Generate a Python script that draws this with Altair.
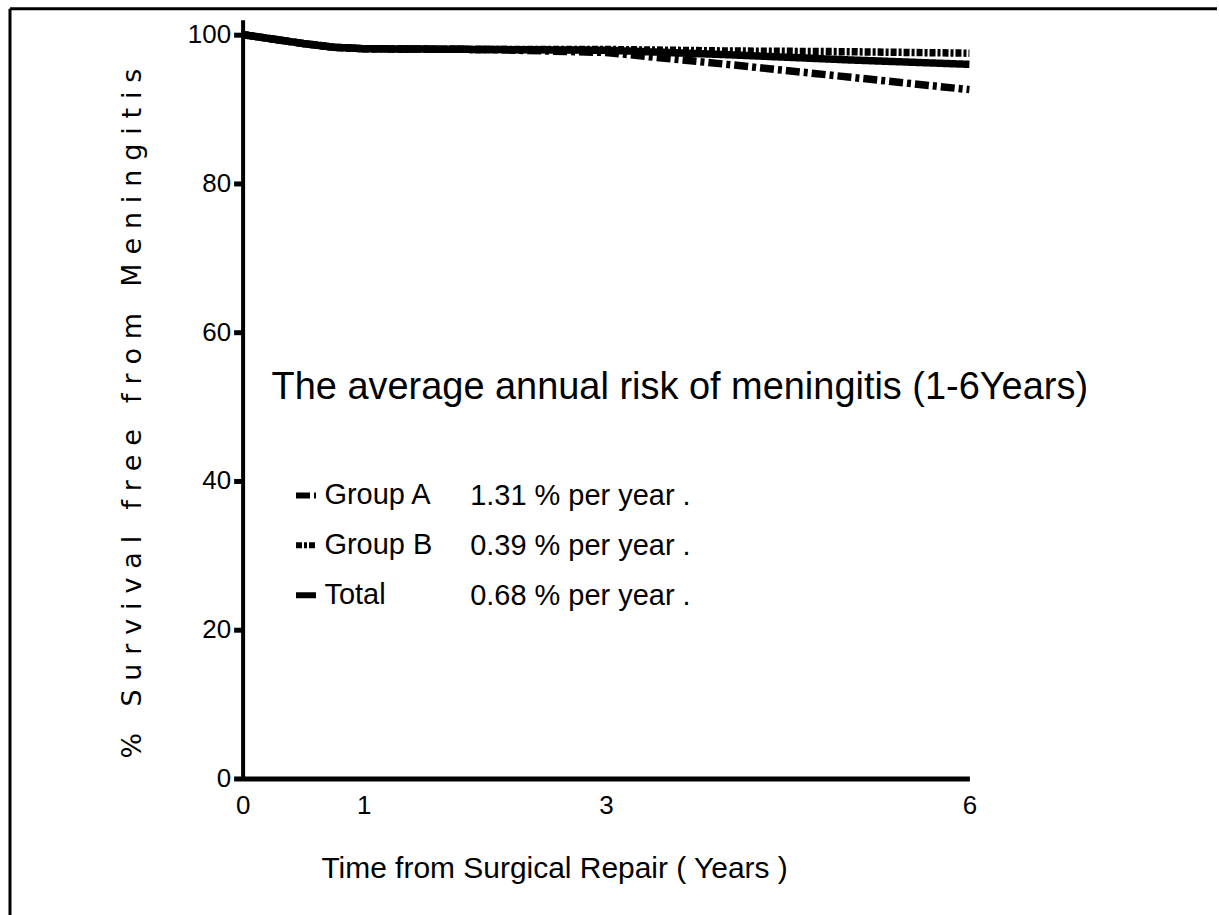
import altair as alt
import pandas as pd

# Survival free from meningitis after surgical repair, by group
years = [0, 0.25, 0.5, 0.75, 1, 2, 3, 4, 5, 6]
group_a = [100, 99.4, 98.8, 98.3, 98.1, 98.0, 97.6, 96.0, 94.3, 92.6]
group_b = [100, 99.4, 98.8, 98.3, 98.1, 98.0, 98.0, 97.8, 97.7, 97.5]
total = [100, 99.4, 98.8, 98.3, 98.1, 98.0, 97.9, 97.3, 96.6, 96.0]

groups = ["Group A", "Group B", "Total"]
rates = ["1.31 % per year .", "0.39 % per year .", "0.68 % per year ."]
dashes = [[14, 4, 4, 4], [6, 2, 3, 2], [1, 0]]

x_ticks = [0, 1, 3, 6]
y_ticks = [0, 20, 40, 60, 80, 100]

y_title = "% Survival free from Meningitis"

rows = []
for g, r, vals in zip(groups, rates, [group_a, group_b, total]):
    for t, v in zip(years, vals):
        rows.append({"year": t, "survival": v, "group": g, "rate": r})
df = pd.DataFrame(rows)

FONT = "Liberation Sans"
W, H = 728, 760

# letter-spaced axis title (three-per-em spaces between characters)
spaced_y_title = "\u2004".join(y_title)

lines = alt.Chart(df).mark_line(color="black", strokeCap="butt").encode(
    x=alt.X(
        "year:Q",
        scale=alt.Scale(domain=[0, 6], nice=False),
        axis=alt.Axis(
            values=x_ticks,
            ticks=False,
            grid=False,
            domainWidth=5,
            domainColor="black",
            labelFont=FONT,
            labelFontSize=26,
            labelColor="black",
            labelPadding=14,
            labelFlush=False,
            title="Time from Surgical Repair ( Years )",
            titleFont=FONT,
            titleFontSize=30,
            titleFontWeight="normal",
            titleColor="black",
            titleAnchor="middle",
            titleBaseline="middle",
            titleX=312,
            titleY=90,
        ),
    ),
    y=alt.Y(
        "survival:Q",
        scale=alt.Scale(domain=[0, 102], nice=False, zero=True),
        axis=alt.Axis(
            values=y_ticks,
            ticks=True,
            tickSize=9,
            tickWidth=5,
            tickColor="black",
            grid=False,
            domainWidth=4,
            domainColor="black",
            labelFont=FONT,
            labelFontSize=26,
            labelColor="black",
            labelPadding=3,
            labelFlush=False,
            title=spaced_y_title,
            titleFont="DejaVu Sans",
            titleFontSize=27,
            titleFontWeight="normal",
            titleColor="black",
            titleAngle=270,
            titleAlign="center",
            titleBaseline="middle",
            titleLimit=900,
            titleX=-110,
            titleY=394,
        ),
    ),
    strokeDash=alt.StrokeDash(
        "group:N",
        scale=alt.Scale(domain=groups, range=dashes),
        legend=alt.Legend(
            orient="none",
            legendX=29,
            legendY=350,
            padding=0,
            title="The average annual risk of meningitis (1-6Years)",
            titleFont=FONT,
            titleFontSize=38,
            titleFontWeight="normal",
            titleColor="black",
            titlePadding=74,
            titleLimit=1000,
            symbolType="stroke",
            symbolSize=400,
            symbolStrokeWidth=6,
            symbolStrokeColor="black",
            symbolOffset=20,
            labelFont=FONT,
            labelFontSize=29,
            labelColor="black",
            labelOffset=4,
            rowPadding=20,
        ),
    ),
    strokeWidth=alt.StrokeWidth(
        "rate:N",
        scale=alt.Scale(domain=rates, range=[7.5, 7.5, 7.5]),
        legend=alt.Legend(
            orient="none",
            legendX=199,
            legendY=463,
            padding=0,
            title=None,
            symbolType="stroke",
            symbolSize=1,
            symbolOpacity=0,
            labelFont=FONT,
            labelFontSize=29,
            labelColor="black",
            labelOffset=0,
            rowPadding=20,
            labelLimit=400,
        ),
    ),
    order=alt.Order("group:N", sort="ascending"),
)

# page frame along the top and left edges
frame_src = pd.DataFrame({"k": [0]})
frame_top = alt.Chart(frame_src).mark_rule(color="black", strokeWidth=3).encode(
    x=alt.value(-233), x2=alt.value(976), y=alt.value(-11)
)
frame_left = alt.Chart(frame_src).mark_rule(color="black", strokeWidth=3).encode(
    x=alt.value(-233), y=alt.value(-11), y2=alt.value(897)
)

chart = (
    alt.layer(frame_top, frame_left, lines)
    .properties(width=W, height=H, padding={"left": 8, "top": 6, "right": 0, "bottom": 0})
    .configure(background="white", view=alt.ViewConfig(stroke="transparent", strokeWidth=0))
)

chart.save("out.html", embed_options={"renderer": "svg", "actions": False})
